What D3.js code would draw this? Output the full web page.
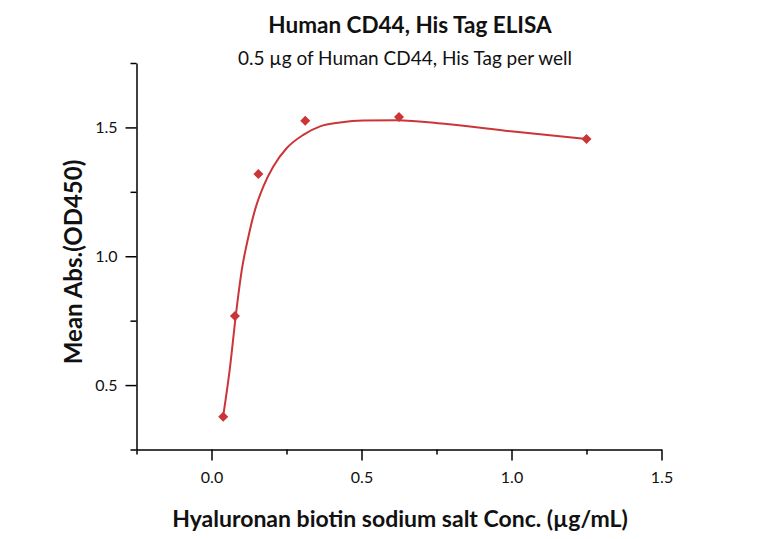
<!DOCTYPE html>
<html>
<head>
<meta charset="utf-8">
<script src="https://cdn.jsdelivr.net/npm/d3@7"></script>
<style>
  body { margin: 0; background: #fff; }
  svg { display: block; font-family: Lato, "Open Sans", sans-serif; }
</style>
</head>
<body>
<div id="chart"></div>
<script>
// Measured points (concentration, mean OD450)
const concValues = [0.0390625, 0.078125, 0.15625, 0.3125, 0.625, 1.25];
const odValues = [0.377, 0.768, 1.319, 1.526, 1.54, 1.455];

// Fitted curve
const fitConc = [0.039, 0.062, 0.081, 0.101, 0.123, 0.145, 0.173, 0.206, 0.251, 0.306, 0.362, 0.428, 0.506, 0.617, 0.784, 1.006, 1.25];
const fitOd = [0.380, 0.572, 0.770, 0.947, 1.076, 1.180, 1.271, 1.348, 1.420, 1.471, 1.504, 1.519, 1.527, 1.528, 1.513, 1.484, 1.455];

const xTicks = [-0.25, 0, 0.25, 0.5, 0.75, 1.0, 1.25, 1.5];
const yTicks = [0.25, 0.5, 0.75, 1.0, 1.25, 1.5, 1.75];
const xLabelled = [0, 0.5, 1.0, 1.5];
const yLabelled = [0.5, 1.0, 1.5];

const title = 'Human CD44, His Tag ELISA';
const subtitle = '0.5 µg of Human CD44, His Tag per well';
const xTitle = 'Hyaluronan biotin sodium salt Conc. (µg/mL)';
const yTitle = 'Mean Abs.(OD450)';

const width = 768, height = 539;
const red = '#cc3538';

const svg = d3.select('#chart').append('svg')
    .attr('width', width)
    .attr('height', height);

const x = d3.scaleLinear().domain([-0.25, 1.5]).range([136.5, 661.5]);
const y = d3.scaleLinear().domain([0.25, 1.75]).range([449.5, 63]);

// Axes
const isMajorX = v => xLabelled.some(t => Math.abs(t - v) < 1e-9);
const isMajorY = v => yLabelled.some(t => Math.abs(t - v) < 1e-9);

const xAxis = svg.append('g')
    .attr('transform', `translate(0,${y(0.25)})`)
    .call(d3.axisBottom(x).tickValues(xTicks).tickSizeOuter(0)
        .tickFormat(d => isMajorX(d) ? d3.format('.1f')(d) : ''));
xAxis.selectAll('.tick line').attr('y2', d => isMajorX(d) ? 11 : 5);

const yAxis = svg.append('g')
    .attr('transform', `translate(${x(-0.25)},0)`)
    .call(d3.axisLeft(y).tickValues(yTicks).tickSizeOuter(0)
        .tickFormat(d => isMajorY(d) ? d3.format('.1f')(d) : ''));
yAxis.selectAll('.tick line').attr('x2', d => isMajorY(d) ? -11 : -6);

svg.selectAll('.domain').attr('stroke', '#000').attr('stroke-width', 1.5);
svg.selectAll('.tick line').attr('stroke', '#000').attr('stroke-width', 1.5);
svg.selectAll('.tick text')
    .attr('font-family', 'Lato, sans-serif')
    .attr('font-size', 16)
    .attr('fill', '#111');
xAxis.selectAll('.tick text').attr('y', 22);
yAxis.selectAll('.tick text').attr('x', -19);

// Fitted curve
const fit = fitConc.map((c, i) => [c, fitOd[i]]);
svg.append('path')
    .datum(fit)
    .attr('fill', 'none')
    .attr('stroke', red)
    .attr('stroke-width', 2)
    .attr('d', d3.line().x(d => x(d[0])).y(d => y(d[1])).curve(d3.curveMonotoneX));

// Data points
svg.selectAll('.pt')
    .data(concValues.map((c, i) => [c, odValues[i]]))
    .enter().append('path')
    .attr('class', 'pt')
    .attr('transform', d => `translate(${x(d[0])},${y(d[1])})`)
    .attr('d', d3.symbol().type(d3.symbolDiamond2).size(64))
    .attr('fill', red);

// Titles
svg.append('text')
    .attr('x', 410).attr('y', 33)
    .attr('text-anchor', 'middle')
    .attr('font-weight', 'bold')
    .attr('font-size', 22.5)
    .attr('fill', '#111')
    .text(title);

svg.append('text')
    .attr('x', 405).attr('y', 65)
    .attr('text-anchor', 'middle')
    .attr('font-size', 19)
    .attr('fill', '#111')
    .text(subtitle);

svg.append('text')
    .attr('x', 400).attr('y', 527)
    .attr('text-anchor', 'middle')
    .attr('font-weight', 'bold')
    .attr('font-size', 23)
    .attr('fill', '#111')
    .text(xTitle);

svg.append('text')
    .attr('transform', `translate(82,262) rotate(-90)`)
    .attr('text-anchor', 'middle')
    .attr('font-weight', 'bold')
    .attr('font-size', 24)
    .attr('fill', '#111')
    .text(yTitle);
</script>
</body>
</html>
